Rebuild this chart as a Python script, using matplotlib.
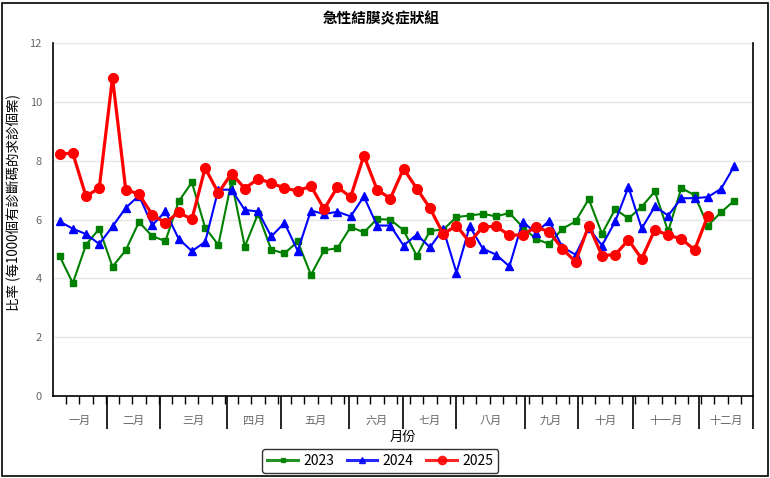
import numpy as np
import matplotlib
matplotlib.use('Agg')
import matplotlib.pyplot as plt
from matplotlib.lines import Line2D
from matplotlib.patches import Rectangle

plt.rcParams['font.family'] = ['Noto Sans CJK TC', 'DejaVu Sans']

# weekly rates, one value per week
rate_2023 = [4.76, 3.84, 5.15, 5.69, 4.40, 4.96, 5.92, 5.44, 5.27, 6.62, 7.27, 5.73, 5.14, 7.31, 5.08,
             6.20, 4.98, 4.85, 5.26, 4.12, 4.96, 5.03, 5.75, 5.57, 6.02, 6.00, 5.64, 4.77, 5.62, 5.66,
             6.09, 6.14, 6.20, 6.11, 6.23, 5.75, 5.35, 5.17, 5.69, 5.94, 6.70, 5.52, 6.36, 6.04, 6.44,
             6.96, 5.60, 7.08, 6.83, 5.80, 6.25, 6.65]
rate_2024 = [5.94, 5.69, 5.51, 5.17, 5.77, 6.40, 6.82, 5.81, 6.28, 5.35, 4.93, 5.24, 7.02, 7.02, 6.33,
             6.28, 5.43, 5.89, 4.94, 6.31, 6.19, 6.27, 6.11, 6.79, 5.80, 5.80, 5.12, 5.49, 5.06, 5.68,
             4.20, 5.77, 5.01, 4.81, 4.41, 5.93, 5.55, 5.96, 5.07, 4.81, 5.72, 5.12, 5.94, 7.11, 5.70,
             6.45, 6.14, 6.73, 6.73, 6.77, 7.05, 7.82]
rate_2025 = [8.24, 8.26, 6.79, 7.08, 10.83, 7.02, 6.87, 6.17, 5.89, 6.25, 6.01, 7.76, 6.91, 7.57, 7.06,
             7.39, 7.25, 7.07, 6.98, 7.14, 6.36, 7.11, 6.77, 8.18, 7.02, 6.72, 7.73, 7.06, 6.39, 5.51,
             5.80, 5.23, 5.76, 5.77, 5.47, 5.48, 5.75, 5.59, 5.01, 4.57, 5.80, 4.78, 4.81, 5.31, 4.67,
             5.66, 5.47, 5.35, 4.97, 6.13]

months = ['一月', '二月', '三月', '四月', '五月', '六月', '七月', '八月', '九月', '十月', '十一月', '十二月']
# month boundaries in week units
month_edges = [0, 4.08, 8.10, 13.19, 17.27, 22.40, 26.48, 30.46, 35.65, 39.68, 43.81, 48.84, 52.92]

fig = plt.figure(figsize=(7.7, 4.78), dpi=100)
ax = fig.add_axes([0.0688, 0.1715, 0.978 - 0.0688, 0.9094 - 0.1715])

series = [
    ('2023', rate_2023, '#008000', 's', 4.2, 1.5),
    ('2024', rate_2024, '#0000ff', '^', 5.5, 1.5),
    ('2025', rate_2025, '#ff0000', 'o', 7, 2.3),
]
handles = []
for name, vals, col, mk, ms, lw in series:
    x = np.arange(len(vals)) + 0.5
    ax.plot(x, vals, color=col, marker=mk, markersize=ms, linewidth=lw, zorder=3)
    handles.append(Line2D([], [], color=col, alpha=0.85, marker=mk, markersize=ms * 0.85,
                          linewidth=2.2, label=name))

ax.set_xlim(0, 52.92)
ax.set_ylim(0, 12)
ax.set_yticks(np.arange(0, 13, 2))
ax.grid(axis='y', color='#e6e6e6', linewidth=1)
ax.set_axisbelow(True)

ax.spines['top'].set_visible(False)
for s in ['left', 'bottom', 'right']:
    ax.spines[s].set_color('black')
    ax.spines[s].set_linewidth(1.2)

ax.tick_params(axis='y', length=0, labelsize=8, labelcolor='#666666', pad=8)

ax.set_xticks(month_edges[1:])
ax.set_xticklabels([])
ax.set_xticks(np.arange(1, 53), minor=True)
ax.tick_params(axis='x', which='major', length=24, width=1.2, color='black')
ax.tick_params(axis='x', which='minor', length=6, width=1, color='black')
for i, m in enumerate(months):
    mid = (month_edges[i] + month_edges[i + 1]) / 2
    ax.text(mid, -0.07, m, transform=ax.get_xaxis_transform(), ha='center', va='center',
            fontsize=8, color='#666666')

ax.set_ylabel('比率 (每1000個有診斷碼的求診個案)', fontsize=9.7)
ax.yaxis.set_label_coords(-0.046, 0.548)
ax.text(0.5, -0.118, '月份', transform=ax.transAxes, ha='center', va='center', fontsize=9.5)
fig.text(0.495, 1 - 18 / 478, '急性結膜炎症狀組', ha='center', va='center', fontsize=10.5, fontweight='bold')

leg = fig.legend(handles=handles, loc='center', bbox_to_anchor=(0.494, 1 - 461 / 478), ncol=3,
                 fontsize=10, frameon=True, fancybox=True, edgecolor='black',
                 handlelength=2.2, columnspacing=0.9, handletextpad=0.4, borderpad=0.35)
leg.get_frame().set_linewidth(1)

fig.patches.append(Rectangle((0.003, 0.004), 0.994, 0.990, transform=fig.transFigure,
                             fill=False, edgecolor='black', linewidth=1.2))

fig.savefig('out.png', dpi=100)
